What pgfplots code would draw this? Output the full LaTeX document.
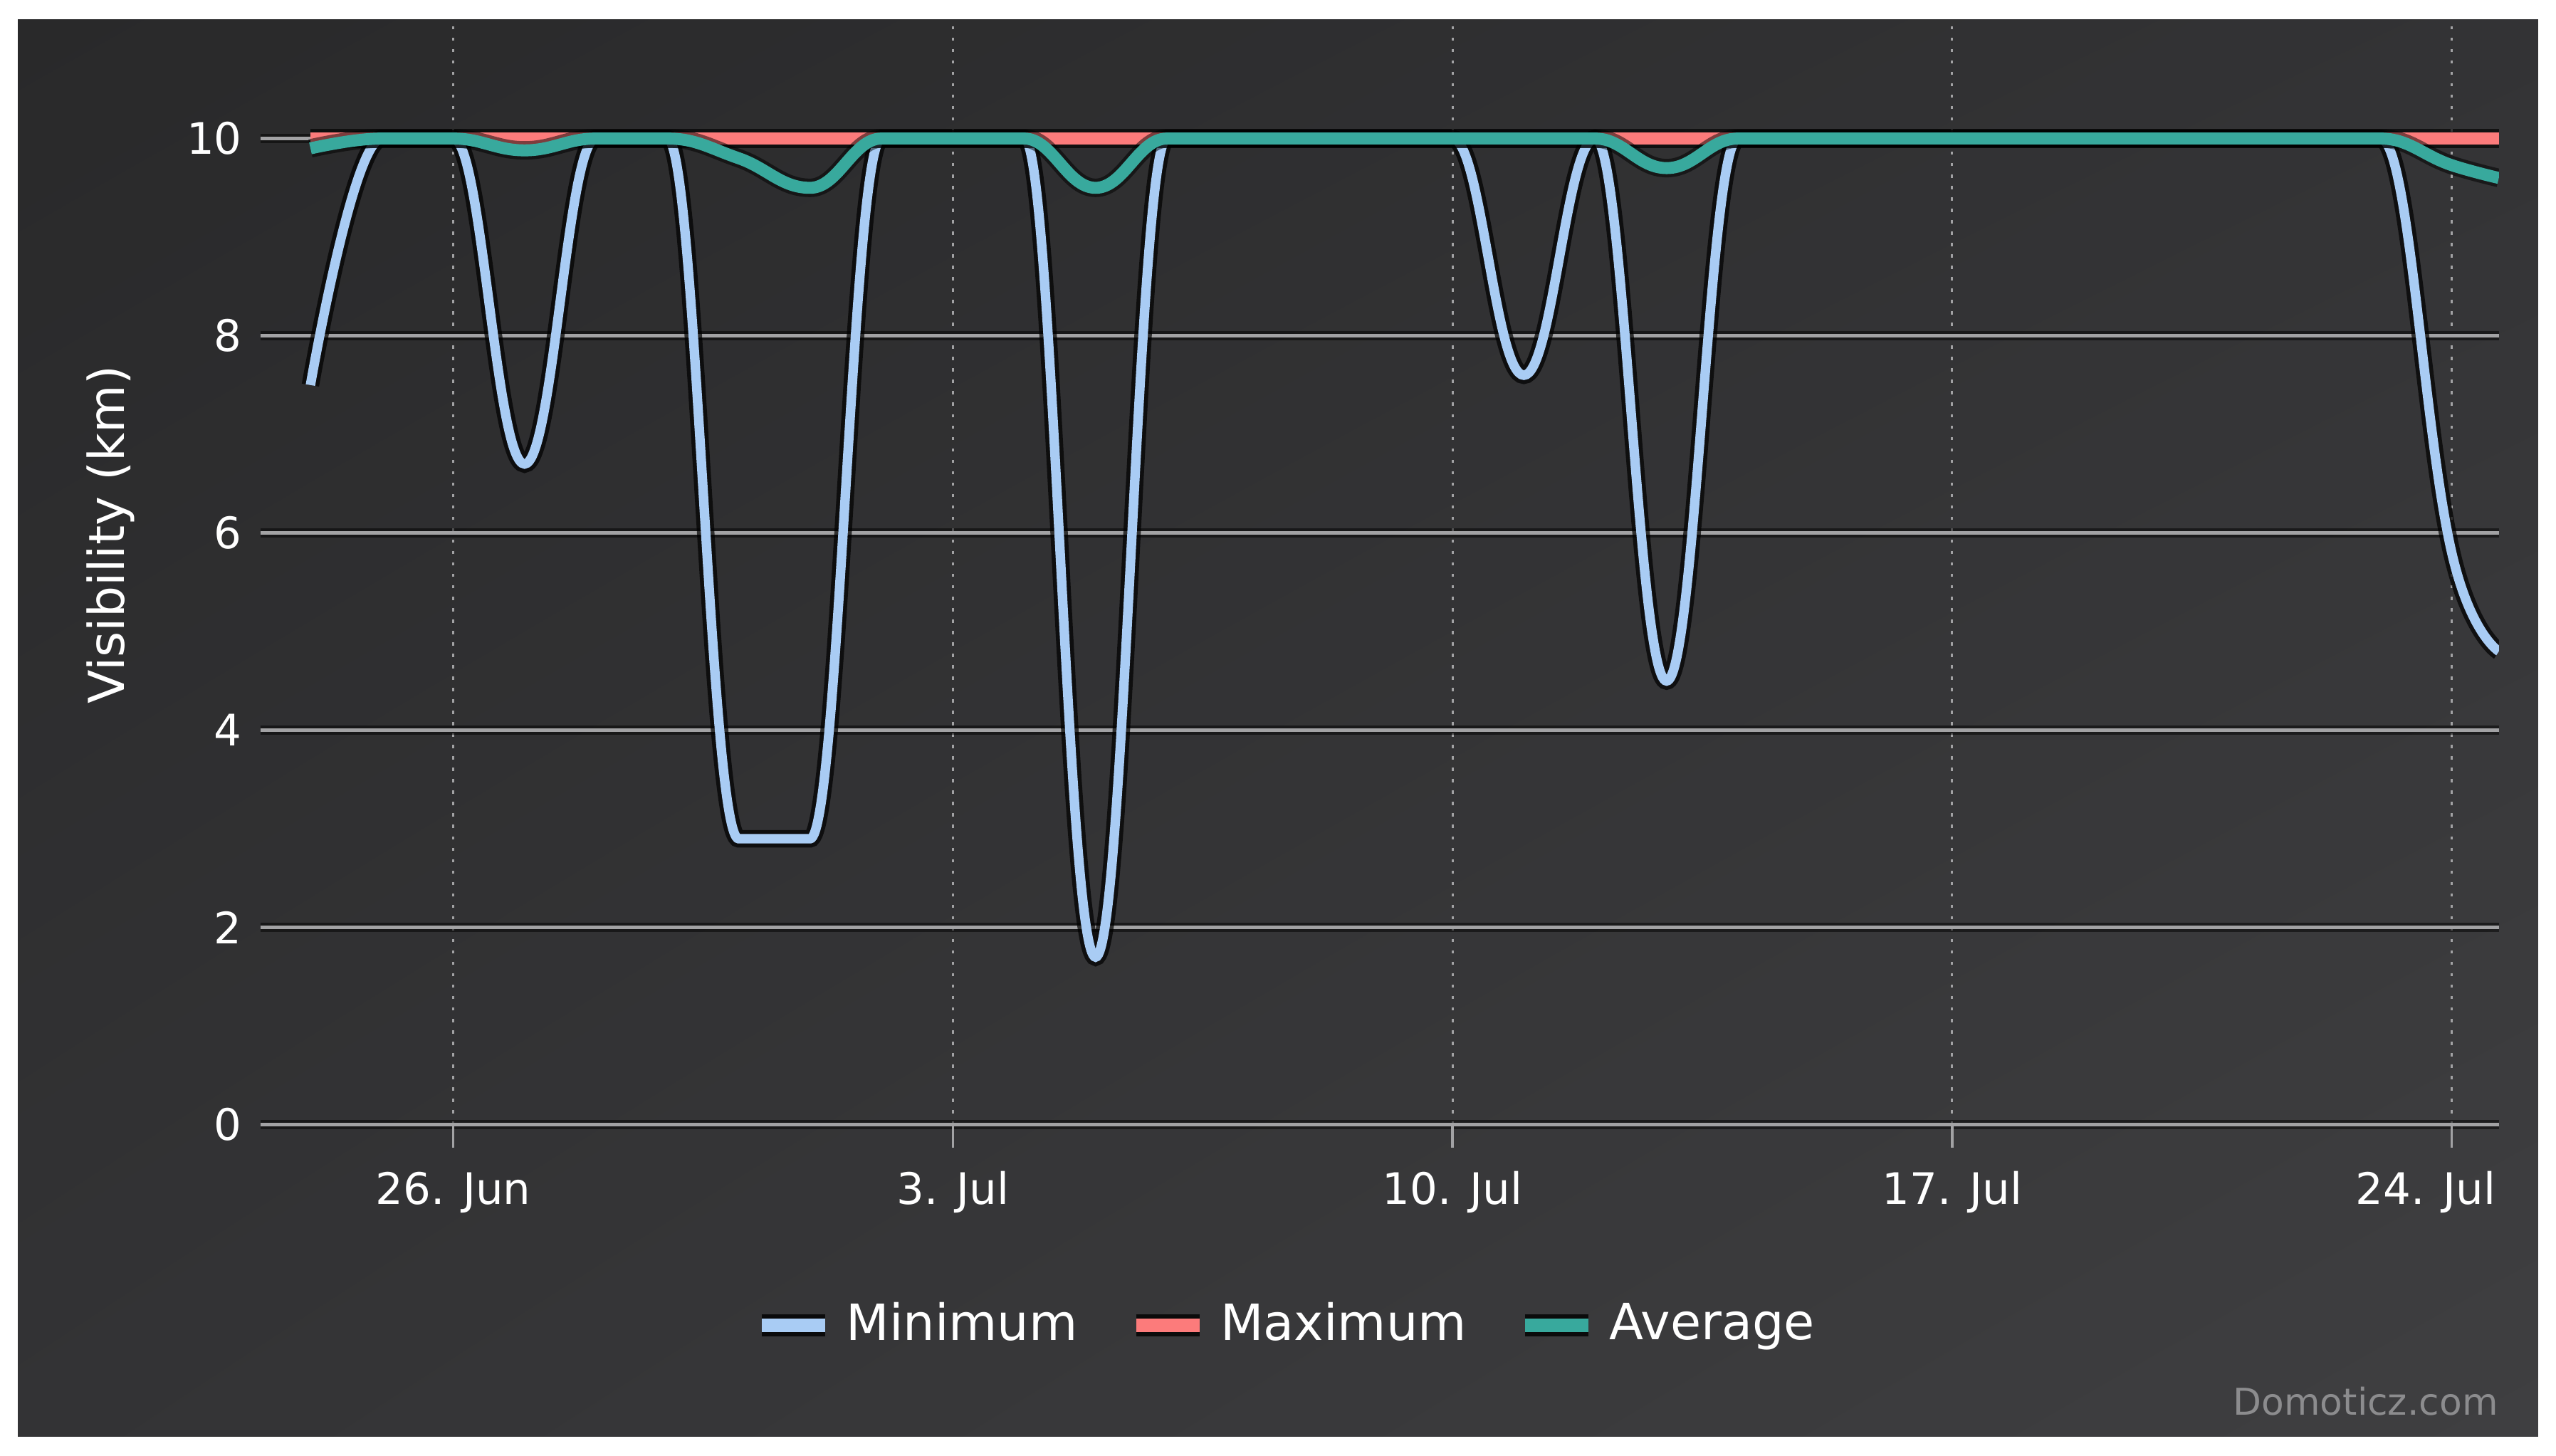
\documentclass[border=0pt]{standalone}
\usepackage{fontspec}
\setmainfont{DejaVu Sans}
\usepackage{pgfplots}
\usepackage{pgfplotstable}
\pgfplotsset{compat=1.18}
\usetikzlibrary{shadings}

\definecolor{bgA}{HTML}{29292A}
\definecolor{bgB}{HTML}{333335}
\definecolor{bgC}{HTML}{3F3F41}
\definecolor{gridgray}{HTML}{A2A2A4}
\definecolor{minblue}{HTML}{A9CCF4}
\definecolor{maxred}{HTML}{FC7B7B}
\definecolor{avgteal}{HTML}{38A99D}
\definecolor{creditgray}{HTML}{8C8C8E}

% spline like the chart's: control points clamped so no false extremes
\makeatletter
\newdimen\hcs@lcx \newdimen\hcs@lcy \newdimen\hcs@rcxd \newdimen\hcs@rcyd
\newdimen\hcs@corr \newdimen\hcs@t
\newcount\hcs@na \newcount\hcs@nb
\def\pgfplothandlerhcspline{%
  \def\pgf@plotstreamstart{%
    \global\let\pgf@plotstreampoint=\hcs@first
    \global\let\pgf@plotstreamspecial=\pgfutil@gobble
    \global\let\pgf@plotstreamend=\hcs@finish
  }%
}
\def\hcs@first#1{%
  \pgf@process{#1}%
  \pgf@plot@first@action{\pgfqpoint{\pgf@x}{\pgf@y}}%
  \xdef\hcs@lx{\the\pgf@x}\xdef\hcs@ly{\the\pgf@y}%
  \global\let\hcs@rcx=\hcs@lx \global\let\hcs@rcy=\hcs@ly
  \global\let\pgf@plotstreampoint=\hcs@second
}
\def\hcs@second#1{%
  \pgf@process{#1}%
  \xdef\hcs@px{\the\pgf@x}\xdef\hcs@py{\the\pgf@y}%
  \global\let\pgf@plotstreampoint=\hcs@next
}
\def\hcs@next#1{%
  \pgf@process{#1}%
  \edef\hcs@nx{\the\pgf@x}\edef\hcs@ny{\the\pgf@y}%
  \hcs@lcx=\dimexpr(\hcs@px*3+\hcs@lx*2)/5\relax
  \hcs@lcy=\dimexpr(\hcs@py*3+\hcs@ly*2)/5\relax
  \hcs@rcxd=\dimexpr(\hcs@px*3+\hcs@nx*2)/5\relax
  \hcs@rcyd=\dimexpr(\hcs@py*3+\hcs@ny*2)/5\relax
  \hcs@t=\dimexpr\hcs@rcxd-\hcs@lcx\relax
  \ifdim\hcs@t=0pt \hcs@corr=0pt
  \else
    \hcs@na=\dimexpr\hcs@rcxd-\hcs@px\relax
    \hcs@nb=\hcs@t
    \hcs@corr=\dimexpr(\hcs@rcyd-\hcs@lcy)*\hcs@na/\hcs@nb+\hcs@py-\hcs@rcyd\relax
  \fi
  \advance\hcs@lcy by\hcs@corr
  \advance\hcs@rcyd by\hcs@corr
  \ifdim\hcs@lcy>\hcs@ly\relax
    \ifdim\hcs@lcy>\hcs@py\relax
      \ifdim\hcs@ly>\hcs@py\relax \hcs@lcy=\hcs@ly\relax\else\hcs@lcy=\hcs@py\relax\fi
      \hcs@rcyd=\dimexpr\hcs@py*2-\hcs@lcy\relax
    \fi
  \else
    \ifdim\hcs@lcy<\hcs@ly\relax
      \ifdim\hcs@lcy<\hcs@py\relax
        \ifdim\hcs@ly<\hcs@py\relax \hcs@lcy=\hcs@ly\relax\else\hcs@lcy=\hcs@py\relax\fi
        \hcs@rcyd=\dimexpr\hcs@py*2-\hcs@lcy\relax
      \fi
    \fi
  \fi
  \ifdim\hcs@rcyd>\hcs@ny\relax
    \ifdim\hcs@rcyd>\hcs@py\relax
      \ifdim\hcs@ny>\hcs@py\relax \hcs@rcyd=\hcs@ny\relax\else\hcs@rcyd=\hcs@py\relax\fi
      \hcs@lcy=\dimexpr\hcs@py*2-\hcs@rcyd\relax
    \fi
  \else
    \ifdim\hcs@rcyd<\hcs@ny\relax
      \ifdim\hcs@rcyd<\hcs@py\relax
        \ifdim\hcs@ny<\hcs@py\relax \hcs@rcyd=\hcs@ny\relax\else\hcs@rcyd=\hcs@py\relax\fi
        \hcs@lcy=\dimexpr\hcs@py*2-\hcs@rcyd\relax
      \fi
    \fi
  \fi
  \pgfpathcurveto{\pgfqpoint{\hcs@rcx}{\hcs@rcy}}{\pgfqpoint{\hcs@lcx}{\hcs@lcy}}{\pgfqpoint{\hcs@px}{\hcs@py}}%
  \xdef\hcs@rcx{\the\hcs@rcxd}\xdef\hcs@rcy{\the\hcs@rcyd}%
  \global\let\hcs@lx=\hcs@px \global\let\hcs@ly=\hcs@py
  \global\let\hcs@px=\hcs@nx \global\let\hcs@py=\hcs@ny
}
\def\hcs@finish{%
  \ifx\pgf@plotstreampoint\hcs@next
    \pgfpathcurveto{\pgfqpoint{\hcs@rcx}{\hcs@rcy}}{\pgfqpoint{\hcs@px}{\hcs@py}}{\pgfqpoint{\hcs@px}{\hcs@py}}%
  \fi
}
\tikzset{hcspline/.code={\let\tikz@plot@handler=\pgfplothandlerhcspline}}
\makeatother

\newlength{\pxu}
\setlength{\pxu}{0.0114796cm}

% day 0 = 26 Jun
\pgfplotstableread{
day   vmin  vmax  vavg
-2    7.5   10    9.9
-1    10    10    10
0     10    10    10
1     6.7   10    9.88
2     10    10    10
3     10    10    10
4     2.9   10    9.8
5     2.9   10    9.5
6     10    10    10
7     10    10    10
8     10    10    10
9     1.7   10    9.5
10    10    10    10
11    10    10    10
12    10    10    10
13    10    10    10
14    10    10    10
15    7.6   10    10
16    10    10    10
17    4.5   10    9.7
18    10    10    10
19    10    10    10
20    10    10    10
21    10    10    10
22    10    10    10
23    10    10    10
24    10    10    10
25    10    10    10
26    10    10    10
27    10    10    10
28    5.8   10    9.73
28.66 4.8   10    9.6
}\vistable

\begin{document}
\begin{tikzpicture}
\fill[white] (0,0) rectangle (1568\pxu,893\pxu);
\shade[upper left=bgA, upper right=bgB, lower left=bgB, lower right=bgC]
  (11\pxu,12\pxu) rectangle (1557\pxu,881\pxu);

\begin{axis}[
  at={(160\pxu,203\pxu)}, anchor=south west,
  scale only axis, width=1373\pxu, height=675\pxu,
  xmin=-2.695, xmax=28.662, ymin=0, ymax=11.157,
  axis line style={draw=none},
  xtick={0,7,14,21,28},
  xticklabels={26. Jun,3. Jul,10. Jul,17. Jul,\hspace*{-32\pxu}24. Jul},
  ytick={0,2,4,6,8,10},
  xmajorgrids, ymajorgrids,
  x grid style={gridgray, line width=1.3\pxu, dash pattern=on 2\pxu off 5\pxu},
  y grid style={gridgray, line width=2.2\pxu,
    preaction={draw=black, line width=5.5\pxu, opacity=0.5}},
  tick align=outside, major tick length=14\pxu,
  xtick pos=bottom, ytick pos=left,
  xtick style={gridgray, line width=1.5\pxu},
  ytick style={draw=none},
  /pgf/number format/assume math mode=true,
  ticklabel style={font=\fontsize{8.7}{10}\selectfont, text=white},
  xticklabel style={anchor=base, yshift=-35\pxu},
  yticklabel style={anchor=east, inner sep=0pt, xshift=3\pxu},
  ylabel={Visibility (km)},
  ylabel style={at={(axis description cs:-0.067,0.5363)}, anchor=center,
    font=\fontsize{9.9}{12}\selectfont, text=white},
  legend columns=3,
  legend style={at={(axis description cs:0.4588,-0.1822)}, anchor=center,
    draw=none, fill=none, text=white, font=\fontsize{10}{12}\selectfont,
    /tikz/every even column/.append style={column sep=23\pxu}},
  legend image code/.code={
    \draw[black, opacity=0.8, line width=4.4pt] (0,0) -- (39\pxu,0);
    \draw[#1, line width=2.8pt] (0,0) -- (39\pxu,0);
  },
]
\addplot[forget plot, hcspline, draw=black, opacity=0.7, line width=3.5pt] table[x=day, y=vmin] {\vistable};
\addplot[hcspline, draw=minblue, line width=1.9pt] table[x=day, y=vmin] {\vistable};
\addlegendentry{Minimum}
\addplot[forget plot, hcspline, draw=black, opacity=0.65, line width=3.9pt] table[x=day, y=vmax] {\vistable};
\addplot[hcspline, draw=maxred, line width=2.4pt] table[x=day, y=vmax] {\vistable};
\addlegendentry{Maximum}
\addplot[forget plot, hcspline, draw=black, opacity=0.5, line width=3.7pt] table[x=day, y=vavg] {\vistable};
\addplot[hcspline, draw=avgteal, line width=2.4pt] table[x=day, y=vavg] {\vistable};
\addlegendentry{Average}
\end{axis}

\node[anchor=base east, inner sep=0pt, text=creditgray, font=\fontsize{7.4}{9}\selectfont]
  at (1533\pxu,25\pxu) {Domoticz.com};
\end{tikzpicture}
\end{document}
